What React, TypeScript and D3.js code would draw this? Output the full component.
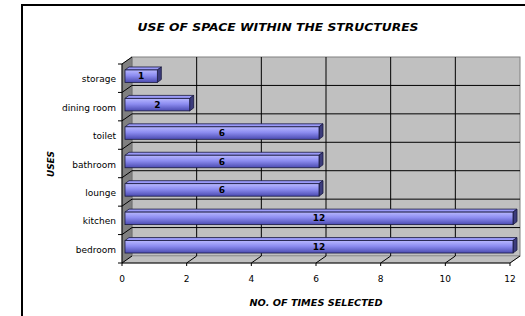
import React from "react";
import * as d3 from "d3";

const categories = ["storage", "dining room", "toilet", "bathroom", "lounge", "kitchen", "bedroom"];
const values = [1, 2, 6, 6, 6, 12, 12];
const xTicks = [0, 2, 4, 6, 8, 10, 12];
const title = "USE OF SPACE WITHIN THE STRUCTURES";
const xTitle = "NO. OF TIMES SELECTED";
const yTitle = "USES";

const W = 525;
const H = 316;
const font = "'DejaVu Sans', sans-serif";

export default function App() {
  // 3D geometry
  const DX = 10;
  const DY = -7;
  const x = d3.scaleLinear().domain([0, 12]).range([122, 510]);
  const y = d3.scaleBand().domain(categories).range([64, 263]).paddingInner(0).paddingOuter(0);
  const bw = y.bandwidth();
  const front = 263;
  const top = 64;
  const x0 = x(0);
  const x1 = x(12);

  const barOff = { dx: 3, dy: -2 };
  const barDepth = { dx: 4, dy: -3 };
  const barH = 12.5;

  return (
    <div style={{ position: "absolute", left: 0, top: 0 }}>
      <svg width={W} height={H} style={{ display: "block" }}>
        <defs>
          <linearGradient id="barGrad" x1="0" y1="0" x2="0" y2="1">
            <stop offset="0" stopColor="#b8b8ff" />
            <stop offset="0.45" stopColor="#8c8cf0" />
            <stop offset="1" stopColor="#4a4ab0" />
          </linearGradient>
        </defs>
        <rect x={0} y={0} width={W} height={H} fill="#ffffff" />
        <rect x={22} y={5} width={700} height={500} fill="#ffffff" stroke="#000" strokeWidth={2} />

        {/* back wall */}
        <rect x={x0 + DX} y={top + DY} width={x1 - x0} height={front - top} fill="#c0c0c0" stroke="#808080" strokeWidth={1} />
        {/* left wall */}
        <polygon
          points={`${x0},${top} ${x0 + DX},${top + DY} ${x0 + DX},${front + DY} ${x0},${front}`}
          fill="#808080"
          stroke="#606060"
          strokeWidth={0.5}
        />
        {/* floor */}
        <polygon
          points={`${x0},${front} ${x1},${front} ${x1 + DX},${front + DY} ${x0 + DX},${front + DY}`}
          fill="#c0c0c0"
          stroke="#808080"
          strokeWidth={0.5}
        />

        {/* vertical gridlines on back wall */}
        {xTicks.slice(1, -1).map((t) => (
          <line key={"gv" + t} x1={x(t) + DX} x2={x(t) + DX} y1={top + DY} y2={front + DY} stroke="#000" strokeWidth={1} />
        ))}
        {/* horizontal gridlines on back wall + left wall diagonals */}
        {categories.map((c, i) => {
          const yy = (y(c) as number);
          return (
            <g key={"gh" + c}>
              {i > 0 && (
                <line x1={x0 + DX} x2={x1 + DX} y1={yy + DY} y2={yy + DY} stroke="#000" strokeWidth={1} />
              )}
              <line x1={x0} x2={x0 + DX} y1={yy} y2={yy + DY} stroke="#000" strokeWidth={1} />
            </g>
          );
        })}
        {/* floor diagonals */}
        {xTicks.map((t) => (
          <line key={"fd" + t} x1={x(t)} x2={x(t) + DX} y1={front} y2={front + DY} stroke="#000" strokeWidth={1} />
        ))}

        {/* axes */}
        <line x1={x0} x2={x0} y1={top} y2={front} stroke="#000" strokeWidth={1} />
        <line x1={x0} x2={x1} y1={front} y2={front} stroke="#000" strokeWidth={1} />
        {categories.map((c) => (
          <line key={"yt" + c} x1={x0 - 4} x2={x0} y1={y(c) as number} y2={y(c) as number} stroke="#000" strokeWidth={1} />
        ))}
        <line x1={x0 - 4} x2={x0} y1={front} y2={front} stroke="#000" strokeWidth={1} />
        {xTicks.map((t) => (
          <g key={"xt" + t}>
            <line x1={x(t)} x2={x(t)} y1={front} y2={front + 3} stroke="#000" strokeWidth={1} />
            <text x={x(t)} y={282} textAnchor="middle" fontFamily={font} fontSize={9} fill="#000">
              {t}
            </text>
          </g>
        ))}

        {/* bars */}
        {categories.map((c, i) => {
          const v = values[i];
          const cy = (y(c) as number) + bw / 2 + barOff.dy;
          const fx0 = x0 + barOff.dx;
          const fx1 = x(v) + barOff.dx;
          const fy0 = cy - barH / 2;
          const fy1 = cy + barH / 2;
          const ddx = barDepth.dx;
          const ddy = barDepth.dy;
          return (
            <g key={"bar" + c}>
              <polygon
                points={`${fx0},${fy0} ${fx1},${fy0} ${fx1 + ddx},${fy0 + ddy} ${fx0 + ddx},${fy0 + ddy}`}
                fill="#9a9af8"
                stroke="#1a1a40"
                strokeWidth={0.8}
              />
              <polygon
                points={`${fx1},${fy0} ${fx1 + ddx},${fy0 + ddy} ${fx1 + ddx},${fy1 + ddy} ${fx1},${fy1}`}
                fill="#3c3c7c"
                stroke="#1a1a40"
                strokeWidth={0.8}
              />
              <rect x={fx0} y={fy0} width={fx1 - fx0} height={barH} fill="url(#barGrad)" stroke="#1a1a40" strokeWidth={0.8} />
              <text
                x={(fx0 + fx1) / 2}
                y={cy + 3}
                textAnchor="middle"
                fontFamily={font}
                fontSize={9}
                fontWeight="bold"
                fill="#000"
              >
                {v}
              </text>
            </g>
          );
        })}

        {/* category labels */}
        {categories.map((c) => (
          <text
            key={"cl" + c}
            x={116}
            y={(y(c) as number) + bw / 2 + 4}
            textAnchor="end"
            fontFamily={font}
            fontSize={9}
            fill="#000"
          >
            {c}
          </text>
        ))}

        {/* titles */}
        <text
          x={278}
          y={31}
          textAnchor="middle"
          fontFamily={font}
          fontSize={11}
          fontWeight="bold"
          fontStyle="italic"
          textLength={281}
          lengthAdjust="spacingAndGlyphs"
          fill="#000"
        >
          {title}
        </text>
        <text
          x={316}
          y={306}
          textAnchor="middle"
          fontFamily={font}
          fontSize={9}
          fontWeight="bold"
          fontStyle="italic"
          textLength={133}
          lengthAdjust="spacingAndGlyphs"
          fill="#000"
        >
          {xTitle}
        </text>
        <text
          transform={`translate(54,164) rotate(-90)`}
          textAnchor="middle"
          fontFamily={font}
          fontSize={9}
          fontWeight="bold"
          fontStyle="italic"
          textLength={26}
          lengthAdjust="spacingAndGlyphs"
          fill="#000"
        >
          {yTitle}
        </text>
      </svg>
    </div>
  );
}
